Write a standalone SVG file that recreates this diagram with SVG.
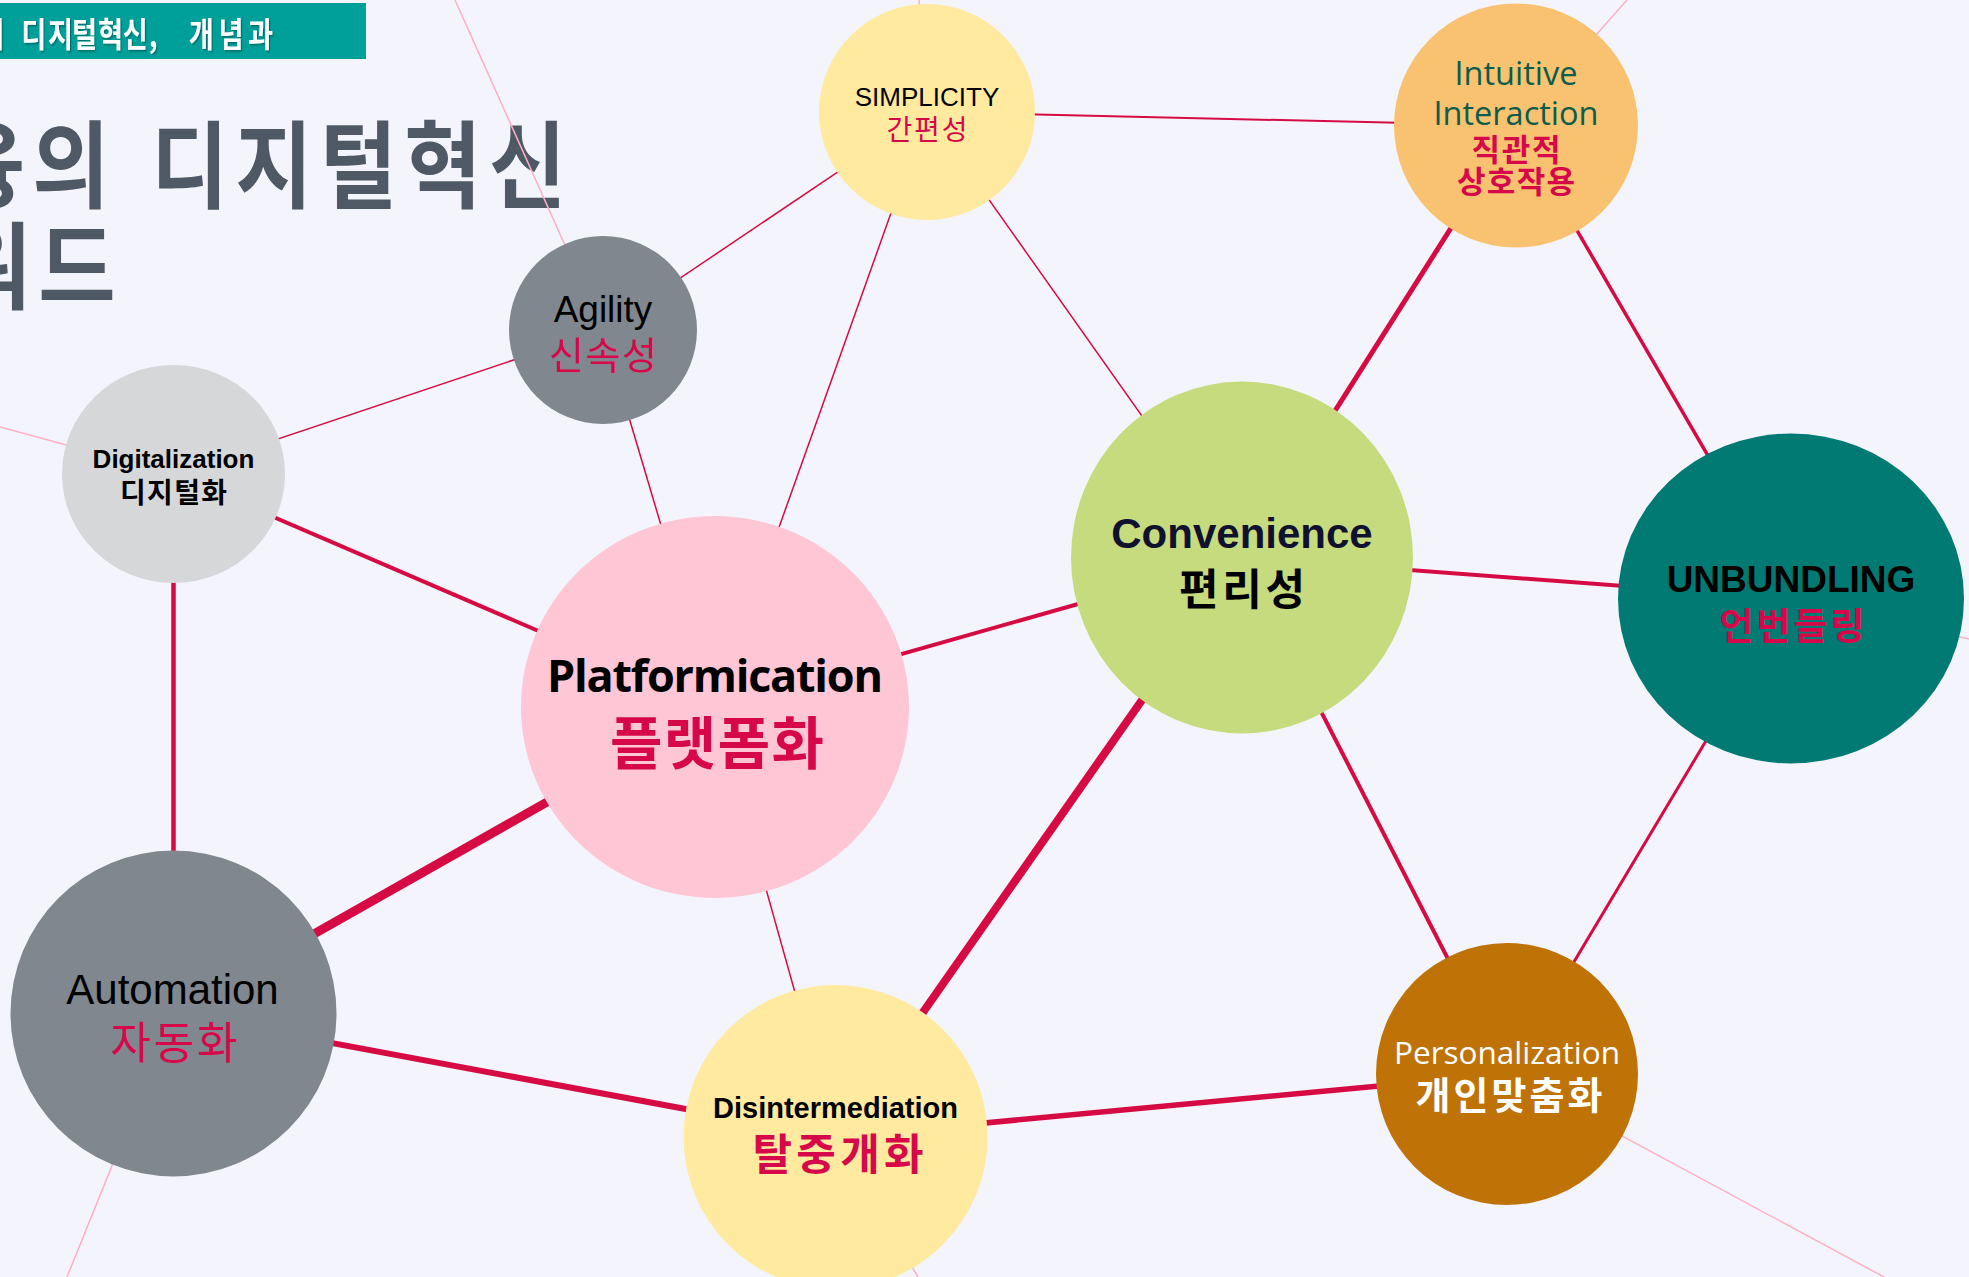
<svg xmlns="http://www.w3.org/2000/svg" width="1969" height="1277" viewBox="0 0 1969 1277">
<defs>
<style>
.bg{fill:#F4F5FC}
.c{stroke:#D60B43;stroke-linecap:butt;fill:none}
.f{stroke:#FFAFC3;stroke-width:1.5;fill:none}
.lat{font-family:"Liberation Sans",Arial,sans-serif;text-anchor:middle}
.os{font-family:"Open Sans","Noto Sans",sans-serif;text-anchor:middle}
.kr{font-family:"Noto Sans CJK KR","Noto Sans",sans-serif;text-anchor:middle}
.b{font-weight:700}
.red{fill:#D6084A}
.blk{fill:#000}
</style>
<filter id="sh" x="-5%" y="-20%" width="110%" height="150%">
<feDropShadow dx="1.5" dy="1.5" stdDeviation="0.8" flood-color="#000" flood-opacity="0.35"/>
</filter>
</defs>
<rect class="bg" x="0" y="0" width="1969" height="1277"/>

<g id="header">
<rect x="0" y="3" width="366" height="56" fill="#00A09A"/>
<text transform="scale(0.8,1)" x="-25.5 3 26.5 59.9 89.9 122.4 153.6 186 200 236 273 310" y="47" font-family="'Noto Sans CJK KR',sans-serif" font-size="34" font-weight="700" fill="#FFFFFF" filter="url(#sh)">의 디지털혁신, 개념과</text>
</g>

<g id="title" fill="#4F5865" font-family="'Noto Sans CJK KR',sans-serif" font-weight="700" font-size="95">
<text transform="scale(0.885,1)" x="-59.1 36.4 131.8 170.5 265.9 361.4 456.8 552.3" y="201">융의 디지털혁신</text>
<text transform="scale(0.885,1)" x="-52.3 43.2" y="302">워드</text>
</g>

<g id="connectors">
<line class="f" x1="455" y1="0" x2="603" y2="330"/>
<line class="f" x1="0" y1="427" x2="173.5" y2="474"/>
<line class="f" x1="919" y1="0" x2="927" y2="112"/>
<line class="f" x1="1627" y1="0" x2="1516" y2="125.5"/>
<line class="f" x1="1791" y1="598.5" x2="1969" y2="639"/>
<line class="f" x1="1507" y1="1074" x2="1884" y2="1277"/>
<line class="f" x1="173.5" y1="1013.5" x2="67" y2="1277"/>
<line class="f" x1="835.5" y1="1137" x2="918" y2="1277"/>

<line class="c" stroke-width="1.5" x1="603" y1="330" x2="927" y2="112"/>
<line class="c" stroke-width="1.5" x1="603" y1="330" x2="173.5" y2="474"/>
<line class="c" stroke-width="1.5" x1="603" y1="330" x2="715" y2="707"/>
<line class="c" stroke-width="1.5" x1="927" y1="112" x2="715" y2="707"/>
<line class="c" stroke-width="1.5" x1="927" y1="112" x2="1242" y2="557.5"/>
<line class="c" stroke-width="2" x1="927" y1="112" x2="1516" y2="125.5"/>
<line class="c" stroke-width="1.5" x1="715" y1="707" x2="835.5" y2="1137"/>

<line class="c" stroke-width="4" x1="173.5" y1="474" x2="715" y2="707"/>
<line class="c" stroke-width="4.5" x1="173.5" y1="474" x2="173.5" y2="1013.5"/>
<line class="c" stroke-width="4" x1="715" y1="707" x2="1242" y2="557.5"/>
<line class="c" stroke-width="5" x1="1242" y1="557.5" x2="1516" y2="125.5"/>
<line class="c" stroke-width="4" x1="1242" y1="557.5" x2="1791" y2="598.5"/>
<line class="c" stroke-width="3.5" x1="1516" y1="125.5" x2="1791" y2="598.5"/>
<line class="c" stroke-width="4" x1="1242" y1="557.5" x2="1507" y2="1074"/>
<line class="c" stroke-width="3" x1="1791" y1="598.5" x2="1507" y2="1074"/>
<line class="c" stroke-width="6" x1="173.5" y1="1013.5" x2="835.5" y2="1137"/>
<line class="c" stroke-width="5.5" x1="835.5" y1="1137" x2="1507" y2="1074"/>
<line class="c" stroke-width="9" x1="173.5" y1="1013.5" x2="715" y2="707"/>
<line class="c" stroke-width="8" x1="1242" y1="557.5" x2="835.5" y2="1137"/>
</g>

<g id="simplicity">
<circle cx="927" cy="112" r="108" fill="#FFEAA0"/>
<text class="lat blk" x="927" y="106" font-size="26">SIMPLICITY</text>
<text class="kr red" x="927" y="140" font-size="28" textLength="81">간편성</text>
</g>

<g id="intuitive">
<circle cx="1516" cy="125.5" r="122" fill="#F9C270"/>
<text class="os" x="1516" y="85" font-size="32.5" fill="#0D5C4C">Intuitive</text>
<text class="os" x="1516" y="125" font-size="32.5" fill="#0D5C4C">Interaction</text>
<text class="kr b red" x="1516" y="161" font-size="31" textLength="89">직관적</text>
<text class="kr b red" x="1516" y="193" font-size="31" textLength="118">상호작용</text>
</g>

<g id="agility">
<circle cx="603" cy="330" r="94" fill="#80878E"/>
<text class="lat blk" x="603" y="322" font-size="37">Agility</text>
<text class="kr red" x="603" y="369" font-size="38" textLength="108">신속성</text>
</g>

<g id="digitalization">
<ellipse cx="173.5" cy="474" rx="111.5" ry="109" fill="#D6D7D9"/>
<text class="lat b blk" x="173.5" y="468" font-size="26">Digitalization</text>
<text class="kr b blk" x="173.5" y="503" font-size="28" textLength="107">디지털화</text>
</g>

<g id="platformication">
<ellipse cx="715" cy="707" rx="194" ry="191" fill="#FFC6D6"/>
<text class="os b blk" x="715" y="692" font-size="45" textLength="336">Platformication</text>
<text class="kr b red" x="717" y="764" font-size="57" textLength="214">플랫폼화</text>
</g>

<g id="convenience">
<ellipse cx="1242" cy="557.5" rx="171" ry="176" fill="#C6DA7E"/>
<text class="lat b" x="1242" y="548" font-size="42" fill="#10112E">Convenience</text>
<text class="kr b" x="1242" y="605" font-size="43" textLength="126">편리성</text>
</g>

<g id="unbundling">
<ellipse cx="1791" cy="598.5" rx="173" ry="165" fill="#007A72"/>
<text class="lat b blk" x="1791" y="592" font-size="37">UNBUNDLING</text>
<text class="kr b red" x="1792" y="640" font-size="37" textLength="145">언번들링</text>
</g>

<g id="automation">
<circle cx="173.5" cy="1013.5" r="163" fill="#80878E"/>
<text class="lat blk" x="172.5" y="1004" font-size="42">Automation</text>
<text class="kr red" x="174" y="1059" font-size="44" textLength="127">자동화</text>
</g>

<g id="disintermediation">
<circle cx="835.5" cy="1137" r="152" fill="#FFEAA0"/>
<text class="lat b blk" x="835.5" y="1118" font-size="29">Disintermediation</text>
<text class="kr b red" x="838" y="1170" font-size="43" textLength="171">탈중개화</text>
</g>

<g id="personalization">
<circle cx="1507" cy="1074" r="131" fill="#BF7307"/>
<text class="os" x="1507" y="1064" font-size="31.5" fill="#FFFFFF">Personalization</text>
<text class="kr b" x="1509" y="1109" font-size="38" fill="#FFFFFF" textLength="187">개인맞춤화</text>
</g>
</svg>
